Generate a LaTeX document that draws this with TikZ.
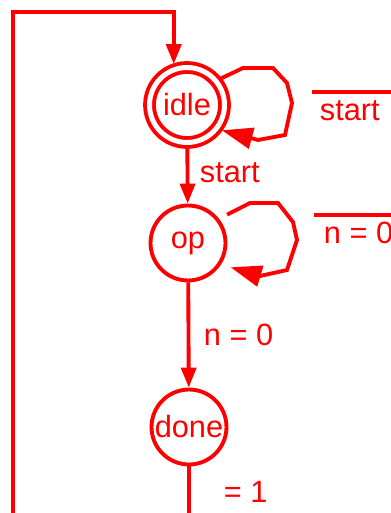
\documentclass[tikz,border=0pt]{standalone}
\usepackage{fontspec}
\setmainfont{Liberation Sans}
\usetikzlibrary{arrows.meta, positioning, calc}
\tikzset{
	statenode/.style={circle, draw, inner sep=0pt, minimum size=1.5cm, font=\fontsize{17.5}{20}\selectfont}
}
\tikzset{
	redlabel/.style={font=\fontsize{17.5}{20}\selectfont, inner sep=0pt, anchor=west}
}
\tikzset{
	smalltip/.style={-{Triangle[length=0.4cm, width=0.3cm]}},
	bigtip/.style={-{Triangle[length=0.62cm, width=0.42cm]}}
}

\begin{document}
\begin{tikzpicture}[x=0.02cm, y=-0.02cm, red, line width=2.2pt]
  \useasboundingbox (0,0) rectangle (390,513);
  \node[statenode, double, double distance=0.1cm, outer sep=0.11cm] (idle) at (187,105) {idle};
  \node[statenode] (op) at (188,243) {op};
  \node[statenode] (done) at (189,427) {done};
  \coordinate (corner) at (13,12);
  \coordinate (entry) at (13,513);
  \coordinate (exit) at (189,513);
  \draw[smalltip] (entry) |- (idle.108 |- corner) -- (idle.108);
  \draw[smalltip] (idle) -- (op);
  \draw[smalltip] (op) -- (done);
  \draw (done) -- (exit);
  \draw[bigtip] (idle.38) -- (243,68) -- (273,68) -- (287,83) -- (292,103)
    -- (285,135) -- (258,140) -- (idle.-36);
  \draw[bigtip, shorten <=0.18cm, shorten >=0.2cm] (op.38) -- (250,203) -- (278,203)
    -- (293,222) -- (297,240) -- (287,270) -- (260,276) -- (op.-33);
  \node[redlabel] (startlbl) at (198,173) {start};
  \node[redlabel] (zerolbl) at (202,335) {n = 0};
  \node[redlabel] (onelbl) at (222,492) {= 1};
  \node[redlabel] (notstart) at (318,111) {start};
  \node[redlabel] (notzero) at (322,233) {n = 0};
  \draw ($(notstart.north west)+(-6,-7)$) -- ++(90,0);
  \draw ($(notzero.north west)+(-8,-5)$) -- ++(90,0);
\end{tikzpicture}
\end{document}
